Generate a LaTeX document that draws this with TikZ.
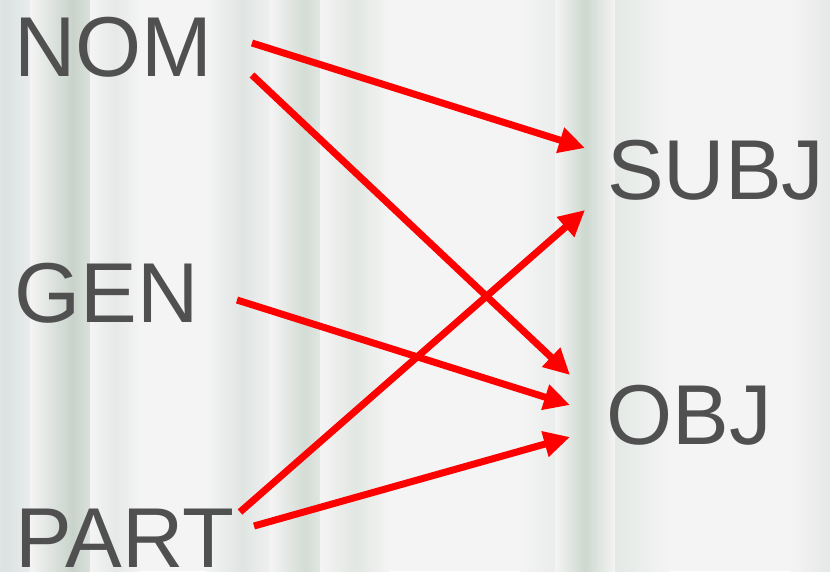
\documentclass[tikz,border=0pt]{standalone}
\usepackage{fontspec}
\setmainfont{Liberation Sans}
\usetikzlibrary{arrows.meta,calc}
\definecolor{bgc}{HTML}{F4F4F4}
\definecolor{txtc}{HTML}{505050}
\definecolor{arrc}{HTML}{FF0000}
\begin{document}
\begin{tikzpicture}[x=1pt,y=-1pt,
  lbl/.style={anchor=base west,inner sep=0pt,text=txtc,font=\fontsize{85}{85}\selectfont},
  conn/.style={draw=arrc,line width=7pt,-{Triangle[length=26pt,width=25pt]}},
  stripe/.style={left color=bgc,right color=bgc}]
\useasboundingbox (0,0) rectangle (830,571);
\begin{scope}
\clip (0,0) rectangle (830,571);
\fill[bgc] (0,0) rectangle (830,571);
\shade[stripe,middle color={rgb,255:red,219;green,226;blue,226}] (-40,0) rectangle (50,571);
\shade[stripe,middle color={rgb,255:red,200;green,211;blue,203}] (30,0) rectangle (115,571);
\shade[stripe,middle color={rgb,255:red,229;green,233;blue,231}] (90,0) rectangle (140,571);
\shade[stripe,middle color={rgb,255:red,224;green,229;blue,226}] (205,0) rectangle (280,571);
\shade[stripe,middle color={rgb,255:red,211;green,220;blue,213}] (270,0) rectangle (340,571);
\shade[stripe,middle color={rgb,255:red,226;green,231;blue,227}] (320,0) rectangle (390,571);
\shade[stripe,middle color={rgb,255:red,222;green,229;blue,224}] (520,0) rectangle (670,571);
\shade[stripe,middle color={rgb,255:red,205;green,216;blue,207}] (555,0) rectangle (615,571);
\shade[stripe,middle color={rgb,255:red,230;green,232;blue,231}] (790,0) rectangle (870,571);
\end{scope}

\node[lbl] (nom)  at (14,76)  {NOM};
\node[lbl] (gen)  at (14,322) {GEN};
\node[lbl] (part) at (15,567) {PART};
\node[lbl] (subj) at (607,199) {SUBJ};
\node[lbl] (obj)  at (606,444) {OBJ};

\draw[conn] ($(nom.base west)+(238,-33)$) -- ($(subj.base west)+(-22,-51)$);
\draw[conn] ($(nom.base west)+(238,-1)$) -- ($(obj.base west)+(-36,-69)$);
\draw[conn] ($(gen.base west)+(223,-22)$) -- ($(obj.base west)+(-36,-39)$);
\draw[conn] ($(part.base west)+(225,-55)$) -- ($(subj.base west)+(-22,11)$);
\draw[conn] ($(part.base west)+(239,-41)$) -- ($(obj.base west)+(-36,-7)$);
\end{tikzpicture}
\end{document}
